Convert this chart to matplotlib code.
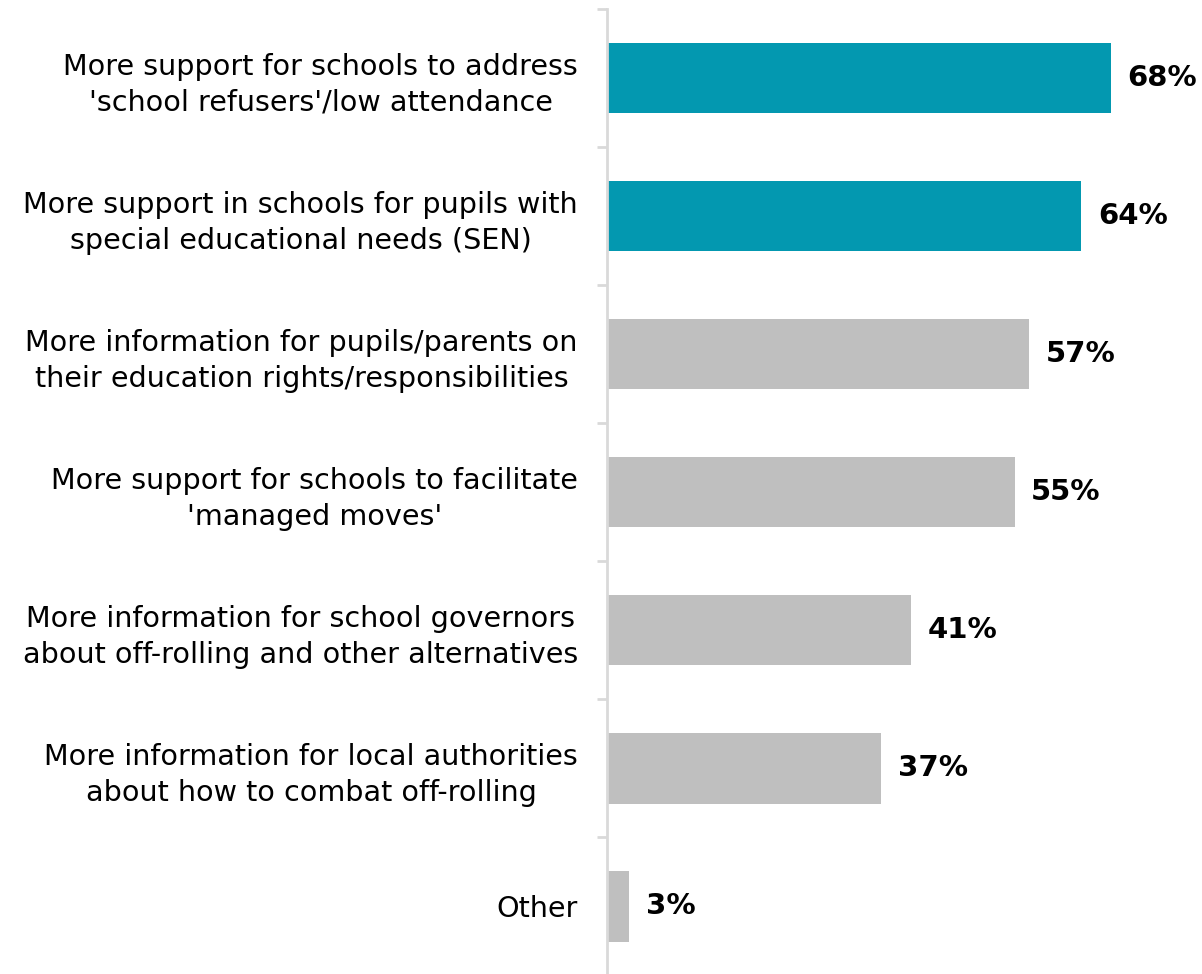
import matplotlib.pyplot as plt

categories = [
    "More support for schools to address\n'school refusers'/low attendance",
    "More support in schools for pupils with\nspecial educational needs (SEN)",
    "More information for pupils/parents on\ntheir education rights/responsibilities",
    "More support for schools to facilitate\n'managed moves'",
    "More information for school governors\nabout off-rolling and other alternatives",
    "More information for local authorities\nabout how to combat off-rolling",
    "Other",
]
values = [68, 64, 57, 55, 41, 37, 3]
highlight = [True, True, False, False, False, False, False]

TEAL = "#0398B0"
GREY = "#BFBFBF"
AXIS = "#D9D9D9"

plt.rcParams['font.family'] = ['DejaVu Sans']

fig = plt.figure(figsize=(12.02, 9.74), dpi=100)
ax = fig.add_axes([0.505, -0.0015, 0.495, 0.9923])

n = len(categories)
ypos = list(range(n))
colors = [TEAL if h else GREY for h in highlight]
ax.barh(ypos, values, height=0.51, color=colors, zorder=2)

for y, v in zip(ypos, values):
    ax.annotate(f"{v}%", (v, y), xytext=(12, 0), textcoords="offset points",
                ha="left", va="center", fontsize=21, fontweight="bold", color="black")

ax.set_ylim(n - 0.5, -0.5)
ax.set_xlim(0, 80.3)
ax.set_yticks(ypos)
ax.set_yticklabels(categories, fontsize=20.6, ha="right", multialignment="center",
                   linespacing=1.35)
ax.set_yticks([i - 0.5 for i in range(n)], minor=True)
ax.tick_params(axis="y", which="major", length=0, pad=21)
ax.tick_params(axis="y", which="minor", length=7, width=2, color=AXIS)
ax.set_xticks([])

for s in ["top", "right", "bottom"]:
    ax.spines[s].set_visible(False)
ax.spines["left"].set_color(AXIS)
ax.spines["left"].set_linewidth(2)

fig.savefig("out.png", dpi=100)
